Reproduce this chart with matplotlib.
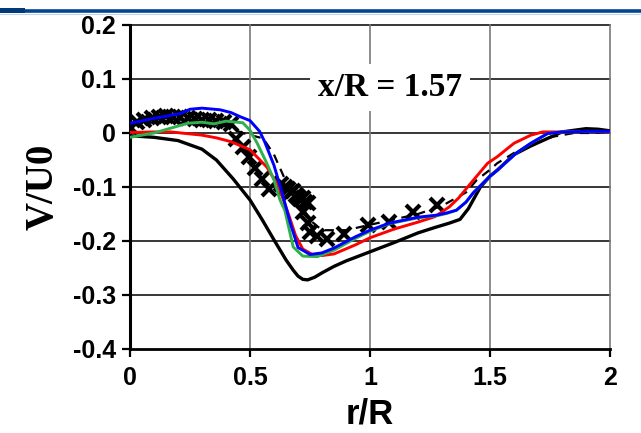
import matplotlib
matplotlib.use("Agg")
import matplotlib.pyplot as plt
from matplotlib.lines import Line2D

# radial position r/R and V/U0 for each curve
r_black = [0, 0.1, 0.2, 0.3, 0.36, 0.43, 0.5, 0.55, 0.6, 0.65, 0.68, 0.7, 0.72, 0.74, 0.77, 0.8,
           0.85, 0.9, 1.0, 1.1, 1.2, 1.27, 1.33, 1.375, 1.41, 1.46, 1.5, 1.53, 1.6, 1.67, 1.75,
           1.8, 1.9, 1.95, 2.0]
v_black = [-0.005, -0.008, -0.014, -0.03, -0.05, -0.085, -0.124, -0.16, -0.198, -0.235, -0.254,
           -0.265, -0.271, -0.272, -0.267, -0.259, -0.247, -0.237, -0.22, -0.203, -0.185, -0.175,
           -0.167, -0.16, -0.14, -0.1, -0.08, -0.069, -0.04, -0.024, -0.008, 0.002, 0.008, 0.007,
           0.004]

r_red = [0, 0.1, 0.17, 0.3, 0.36, 0.42, 0.5, 0.57, 0.62, 0.66, 0.69, 0.72, 0.76, 0.8, 0.85, 0.94,
         1.0, 1.1, 1.2, 1.27, 1.33, 1.37, 1.42, 1.49, 1.53, 1.6, 1.67, 1.72, 1.8, 1.9, 2.0]
v_red = [0.001, 0.002, 0.002, -0.004, -0.009, -0.016, -0.031, -0.063, -0.1, -0.15, -0.19, -0.215,
         -0.225, -0.227, -0.224, -0.207, -0.194, -0.178, -0.165, -0.155, -0.137, -0.12, -0.093,
         -0.056, -0.044, -0.019, -0.004, 0.002, 0.002, 0.003, 0.002]

r_blue = [0, 0.1, 0.21, 0.25, 0.3, 0.375, 0.42, 0.46, 0.5, 0.54, 0.56, 0.6, 0.63, 0.67, 0.7,
          0.75, 0.8, 0.85, 0.94, 1.0, 1.08, 1.2, 1.28, 1.32, 1.36, 1.4, 1.43, 1.5, 1.53, 1.61,
          1.67, 1.74, 1.8, 1.9, 2.0]
v_blue = [0.018, 0.027, 0.036, 0.044, 0.046, 0.043, 0.038, 0.03, 0.023, 0.003, -0.015, -0.06,
          -0.105, -0.17, -0.212, -0.225, -0.222, -0.213, -0.192, -0.18, -0.167, -0.156, -0.152,
          -0.148, -0.143, -0.128, -0.111, -0.08, -0.069, -0.037, -0.019, -0.001, 0.002, 0.003, 0.003]

r_green = [0, 0.05, 0.1, 0.17, 0.24, 0.3, 0.35, 0.4, 0.445, 0.47, 0.5, 0.53, 0.57, 0.6, 0.625,
           0.645, 0.68, 0.72, 0.78, 0.85, 0.94, 1.0, 1.08, 1.2, 1.28, 1.32, 1.36, 1.4, 1.43, 1.5,
           1.53, 1.61, 1.67, 1.74, 1.8, 1.9, 2.0]
v_green = [-0.008, -0.004, 0.0, 0.009, 0.018, 0.02, 0.017, 0.022, 0.02, 0.019, 0.005, -0.019,
           -0.056, -0.087, -0.124, -0.143, -0.211, -0.228, -0.229, -0.217, -0.195, -0.182, -0.168,
           -0.157, -0.153, -0.149, -0.143, -0.128, -0.111, -0.08, -0.069, -0.037, -0.019, -0.001,
           0.002, 0.003, 0.003]

r_dash = [0, 0.1, 0.2, 0.3, 0.4, 0.47, 0.52, 0.555, 0.6, 0.64, 0.68, 0.72, 0.76, 0.8, 0.9, 1.0,
          1.1, 1.2, 1.3, 1.36, 1.4, 1.445, 1.5, 1.53, 1.6, 1.67, 1.76, 1.85, 1.92, 2.0]
v_dash = [0.015, 0.02, 0.025, 0.022, 0.012, 0.0, -0.006, -0.01, -0.04, -0.08, -0.11, -0.14,
          -0.165, -0.18, -0.18, -0.17, -0.16, -0.15, -0.135, -0.12, -0.11, -0.087, -0.068,
          -0.056, -0.037, -0.022, -0.007, 0.0, 0.0, 0.002]

# measured points (crosses)
r_exp = [0.0, 0.03, 0.06, 0.09, 0.12, 0.15, 0.18, 0.21, 0.24, 0.27, 0.3, 0.33, 0.36, 0.39, 0.42,
         0.44, 0.47, 0.495, 0.52, 0.55, 0.58, 0.63, 0.645, 0.66, 0.67, 0.68, 0.69, 0.7, 0.71,
         0.72, 0.73, 0.74, 0.72, 0.74, 0.75, 0.78, 0.82, 0.89, 0.99, 1.08, 1.18, 1.28]
v_exp = [0.012, 0.02, 0.025, 0.028, 0.03, 0.032, 0.03, 0.029, 0.028, 0.026, 0.025, 0.024, 0.022,
         0.02, 0.017, -0.012, -0.025, -0.045, -0.065, -0.085, -0.103, -0.095, -0.1, -0.104,
         -0.11, -0.107, -0.115, -0.118, -0.122, -0.12, -0.127, -0.13, -0.146, -0.167, -0.183,
         -0.19, -0.197, -0.187, -0.171, -0.165, -0.147, -0.134]

x_ticks = [0, 0.5, 1, 1.5, 2]
x_labels = ["0", "0.5", "1", "1.5", "2"]
y_ticks = [-0.4, -0.3, -0.2, -0.1, 0, 0.1, 0.2]
y_labels = ["-0.4", "-0.3", "-0.2", "-0.1", "0", "0.1", "0.2"]

sans = "Liberation Sans"
serif = "Liberation Serif"

fig = plt.figure(figsize=(6.41, 4.33), dpi=100)
ax = fig.add_axes([130 / 641, 1 - 349 / 433, 480 / 641, 324 / 433])

# slide decoration at the top (blue rule and the cut off heading)
fig.add_artist(Line2D([0, 1], [1 - 11 / 433] * 2, color="#00468e", lw=2.6))
fig.add_artist(Line2D([0, 1], [1 - 14 / 433] * 2, color="#c8d4e4", lw=0.8))
fig.add_artist(Line2D([0, 22 / 641], [1 - 10 / 433] * 2, color="#003a78", lw=3.6))
fig.text(366 / 641, 1 - 3 / 433, "x/D", fontsize=20, fontweight="bold", family=sans,
         ha="center", va="bottom")

ax.plot(r_black, v_black, color="black", lw=2.4, zorder=4)
ax.plot(r_dash, v_dash, color="black", lw=1.6, ls=(0, (4, 3)), zorder=3)
ax.plot(r_exp, v_exp, ls="none", marker="x", ms=10.5, mew=3.0, color="black", zorder=3)
ax.plot(r_red, v_red, color="#ff0000", lw=2.1, zorder=5)
ax.plot(r_green, v_green, color="#2fb04c", lw=2.1, zorder=5)
ax.plot(r_blue, v_blue, color="#0000ff", lw=2.1, zorder=6)

ax.set_xlim(0, 2)
ax.set_ylim(-0.4, 0.2)
ax.set_xticks(x_ticks)
ax.set_xticklabels(x_labels)
ax.set_yticks(y_ticks)
ax.set_yticklabels(y_labels)
for lab in ax.get_xticklabels() + ax.get_yticklabels():
    lab.set_fontsize(18)
    lab.set_fontweight("bold")
    lab.set_family(sans)

ax.tick_params(axis="both", direction="out", length=6, width=1.6, color="black")
ax.tick_params(axis="x", pad=6)
ax.tick_params(axis="y", pad=4)

# grid: horizontal black, vertical grey
for y in y_ticks[1:]:
    ax.axhline(y, color="black", lw=1.1, zorder=1, clip_on=False)
for x in x_ticks[1:]:
    ax.axvline(x, color="#7a7a7a", lw=1.2, zorder=1, clip_on=False)

ax.spines["top"].set_visible(False)
ax.spines["right"].set_visible(False)
ax.spines["left"].set_linewidth(2.2)
ax.spines["bottom"].set_linewidth(2.0)

ax.set_xlabel("r/R", fontsize=25, fontweight="bold", family=sans, labelpad=6)
ax.set_ylabel("V/U0", fontsize=28, fontweight="bold", family=serif, labelpad=8)

ax.text(1.083, 0.084, "x/R = 1.57", fontsize=24, fontweight="bold", family=serif,
        ha="center", va="center", zorder=8,
        bbox=dict(facecolor="white", edgecolor="none", pad=6))

fig.savefig("out.png", dpi=100)
